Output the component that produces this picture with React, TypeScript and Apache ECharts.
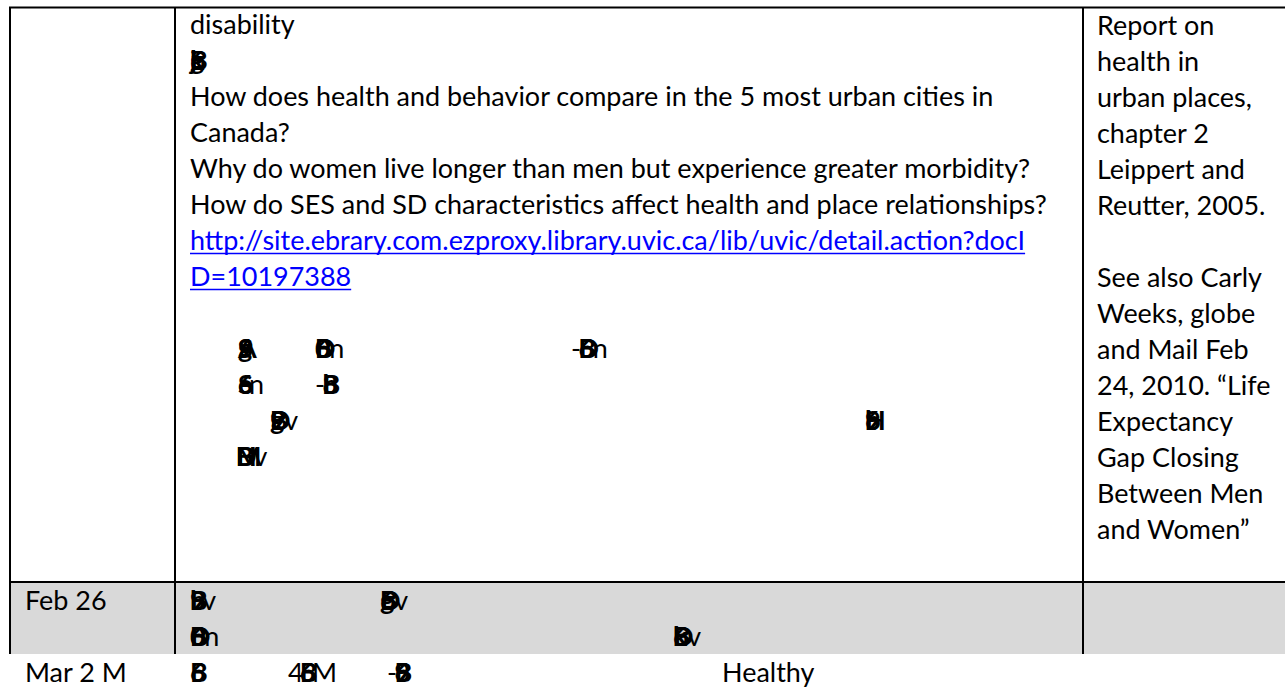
import React, { useEffect, useRef } from "react";
import * as echarts from "echarts";

// ---- content (texts as printed in the reference) ----
const topicLines = [
  "disability",
  "",
  "How does health and behavior compare in the 5 most urban cities in",
  "Canada?",
  "Why do women live longer than men but experience greater morbidity?",
  "How do SES and SD characteristics affect health and place relationships?",
];
const linkLines = [
  "http://site.ebrary.com.ezproxy.library.uvic.ca/lib/uvic/detail.action?docI",
  "D=10197388",
];
const sourceLines = [
  "Report on",
  "health in",
  "urban places,",
  "chapter 2",
  "Leippert and",
  "Reutter, 2005.",
  "",
  "See also Carly",
  "Weeks, globe",
  "and Mail Feb",
  "24, 2010. \u201cLife",
  "Expectancy",
  "Gap Closing",
  "Between Men",
  "and Women\u201d",
];
const dateLabels = ["Feb 26", "Mar 2 M"];
const lastRowWords = ["Healthy"];
// garbled (overprinted) glyph clusters: prefix, over-printed chars, suffix
const garbleClusters = [
  { pre: "", stack: "k6gjB", post: "" },
  { pre: "", stack: "gS9A", post: "" },
  { pre: "", stack: "B6D0", post: "n" },
  { pre: "-", stack: "B6D", post: "n" },
  { pre: "", stack: "6Se", post: "n" },
  { pre: "-", stack: "Bb8", post: "" },
  { pre: "", stack: "BD9g", post: "v" },
  { pre: "", stack: "Hb69", post: "" },
  { pre: "", stack: "BMDH", post: "v" },
  { pre: "", stack: "b9B", post: "v" },
  { pre: "", stack: "BD6g", post: "v" },
  { pre: "", stack: "B6D0", post: "n" },
  { pre: "", stack: "6BDk", post: "v" },
  { pre: "", stack: "6B", post: "" },
  { pre: "4", stack: "6B", post: "M" },
  { pre: "-", stack: "B69", post: "" },
];

// ---- layout ----
const FONT = "Lato, 'Liberation Sans', sans-serif";
const BASE_Y0 = 34;
const LINE_H = 36;
const COL_X = [25, 190, 1097];
const garbleSpots = [
  { row: 1, x: 190 },
  { row: 9, x: 238 },
  { row: 9, x: 315 },
  { row: 9, x: 571 },
  { row: 10, x: 238 },
  { row: 10, x: 315 },
  { row: 11, x: 270 },
  { row: 11, x: 865 },
  { row: 12, x: 236 },
  { row: 16, x: 190 },
  { row: 16, x: 380 },
  { row: 17, x: 190 },
  { row: 17, x: 673 },
  { row: 18, x: 190 },
  { row: 18, x: 288 },
  { row: 18, x: 387 },
];

function measure(text: string, size: number) {
  const c = document.createElement("canvas");
  const ctx = c.getContext("2d")!;
  ctx.font = `${size}px ${FONT}`;
  return ctx.measureText(text).width;
}

export default function App() {
  const ref = useRef<HTMLDivElement>(null);
  useEffect(() => {
    document.body.style.margin = "0";
    const chart = echarts.init(ref.current!, null, { renderer: "svg" });

    let fs = (100 * 858) / measure(topicLines[5], 100);
    fs = Math.max(18, Math.min(30, fs));
    const central = 0.387 * fs;
    const yOf = (row: number) => BASE_Y0 + row * LINE_H - central;

    const txt = (text: string, x: number, y: number, fill = "#000", weight: any = "normal") => ({
      type: "text",
      x,
      y,
      silent: true,
      style: {
        text,
        fill,
        fontSize: fs,
        fontFamily: FONT,
        fontWeight: weight,
        align: "left",
        verticalAlign: "middle",
        textAlign: "left",
        textVerticalAlign: "middle",
      },
    });
    const ln = (x1: number, y1: number, x2: number, y2: number, w = 2) => ({
      type: "line",
      silent: true,
      shape: { x1, y1, x2, y2 },
      style: { stroke: "#000", lineWidth: w },
    });

    const els: any[] = [];
    // grey row
    els.push({
      type: "rect",
      silent: true,
      shape: { x: 9, y: 583, width: 1276, height: 71 },
      style: { fill: "#d9d9d9" },
    });
    // borders
    els.push(ln(9, 7.5, 1285, 7.5));
    els.push(ln(9, 582, 1285, 582));
    els.push(ln(10, 7.5, 10, 654));
    els.push(ln(175, 7.5, 175, 654));
    els.push(ln(1083, 7.5, 1083, 654));

    // topic cell
    topicLines.forEach((t, i) => {
      if (t) els.push(txt(t, COL_X[1], yOf(i)));
    });
    linkLines.forEach((t, i) => {
      const row = topicLines.length + i;
      els.push(txt(t, COL_X[1], yOf(row), "#0000ff"));
      const w = measure(t, fs);
      const uy = BASE_Y0 + row * LINE_H + 3.5;
      els.push({
        type: "line",
        silent: true,
        shape: { x1: COL_X[1], y1: uy, x2: COL_X[1] + w, y2: uy },
        style: { stroke: "#0000ff", lineWidth: 1.5 },
      });
    });
    // source cell
    sourceLines.forEach((t, i) => {
      if (t) els.push(txt(t, COL_X[2], yOf(i) + 1));
    });
    // dates and last row
    els.push(txt(dateLabels[0], COL_X[0], yOf(16)));
    els.push(txt(dateLabels[1], COL_X[0], yOf(18)));
    els.push(txt(lastRowWords[0], 722, yOf(18)));

    // garbled clusters: characters over-printed at one spot, as in the reference
    garbleClusters.forEach((g, k) => {
      const spot = garbleSpots[k];
      const y = yOf(spot.row);
      let x = spot.x;
      if (g.pre) {
        els.push(txt(g.pre, x, y));
        x += measure(g.pre, fs) * 0.75;
      }
      let maxW = 0;
      g.stack.split("").forEach((ch) => {
        els.push(txt(ch, x, y, "#000", "bold"));
        maxW = Math.max(maxW, measure(ch, fs));
      });
      if (g.post) els.push(txt(g.post, x + maxW * 0.7, y));
    });

    chart.setOption({ animation: false, graphic: { elements: els } });
    return () => chart.dispose();
  }, []);
  return <div ref={ref} style={{ width: 1285, height: 691, background: "#fff" }} />;
}
